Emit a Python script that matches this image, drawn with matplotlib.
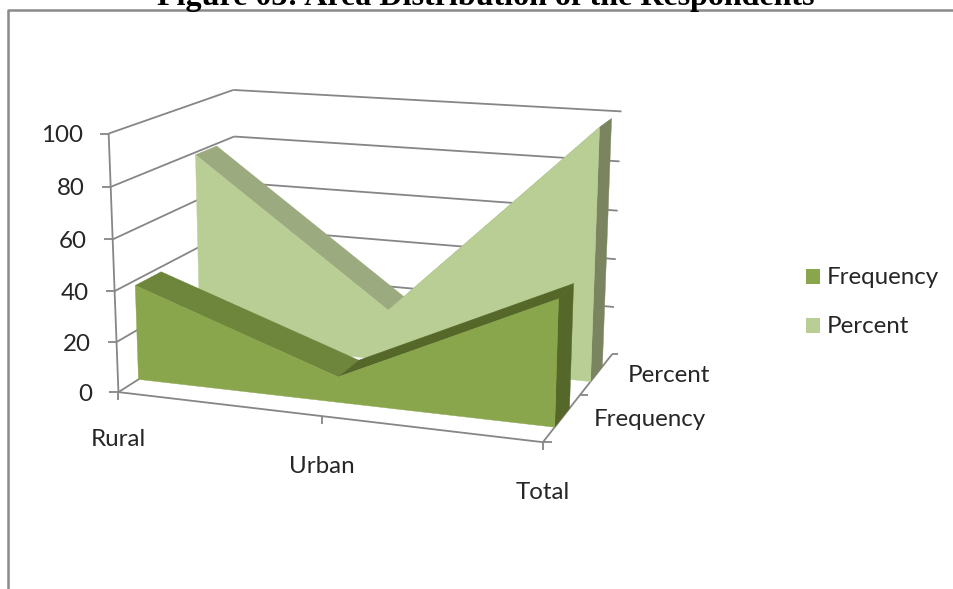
import numpy as np
import matplotlib
matplotlib.use('Agg')
import matplotlib.pyplot as plt
from matplotlib.patches import Polygon, Rectangle

plt.rcParams['font.family'] = ['Lato', 'DejaVu Sans']

categories = ['Rural', 'Urban', 'Total']
series_names = ['Frequency', 'Percent']
frequency = [38, 10, 48]
percent = [79, 21, 100]
value_ticks = [0, 20, 40, 60, 80, 100]

GRID = '#868686'
TEXT = '#262626'
FS = 17.4

# corners of the chart box: (x, depth, value) -> pixel
box = [((0, 0, 0), (118, 390)), ((1, 0, 0), (543, 444)),
       ((0, 1, 0), (238, 319)), ((1, 1, 0), (612, 352)),
       ((0, 0, 1), (109, 134)), ((0, 1, 1), (233, 89)),
       ((1, 1, 1), (621.5, 112))]


def fit_camera(pairs):
    rows = []
    rhs = []
    for (x, d, v), (px, py) in pairs:
        rows.append([x, d, v, 1, 0, 0, 0, 0, -px * x, -px * d, -px * v])
        rows.append([0, 0, 0, 0, x, d, v, 1, -py * x, -py * d, -py * v])
        rhs += [px, py]
    m = np.linalg.lstsq(np.array(rows, float), np.array(rhs, float), rcond=None)[0]
    return np.append(m, 1).reshape(3, 4)


CAM = fit_camera(box)


def proj(x, d, value):
    p = CAM @ np.array([x, d, value / 100.0, 1.0])
    return p[0] / p[2], p[1] / p[2]


def cat_x(i):
    return i / (len(categories) - 1)


fig = plt.figure(figsize=(9.54, 5.89), dpi=100)
ax = fig.add_axes([0, 0, 1, 1])
ax.set_xlim(0, 954)
ax.set_ylim(589, 0)
ax.axis('off')


def line(p, q, lw=1.3):
    ax.plot([p[0], q[0]], [p[1], q[1]], color=GRID, lw=lw, solid_capstyle='butt', zorder=1)


# outer frame and title
ax.plot([8.5, 8.5, 954], [589, 9.5, 9.5], color='#8a8a8a', lw=1.8, zorder=0)
ax.text(486, 5, 'Figure 03: Area Distribution of the Respondents', family='Liberation Serif',
        fontweight='bold', fontsize=23, ha='center', va='baseline', color='black')

# walls
for v in value_ticks:
    a = proj(0, 0, v)
    b = proj(0, 1, v)
    c = proj(1, 1, v)
    line(a, b)
    if v > 0:
        line(b, c)
    else:
        line(c, (c[0] + 6, c[1]))
    line((a[0] - 9, a[1]), a)
    ax.text(a[0] - 26, a[1] + 2, str(v), ha='right', va='center', fontsize=FS, color=TEXT)

# axis lines and their ticks
line(proj(0, 0, 0), proj(0, 0, 100))
line(proj(0, 0, 0), proj(1, 0, 0))
line(proj(1, 0, 0), proj(1, 1, 0))
for i in range(len(categories)):
    p = proj(cat_x(i), 0, 0)
    line(p, (p[0], p[1] + 8))
p = proj(1, 0, 0)
line(p, (p[0] + 9, p[1]))
p = proj(1, 0.5, 0)
line(p, (p[0] + 8, p[1]))

# category and series labels on the floor
cat_offsets = [47, 50, 50]
for i, name in enumerate(categories):
    p = proj(cat_x(i), 0, 0)
    ax.text(p[0], p[1] + cat_offsets[i], name, ha='center', va='center', fontsize=FS, color=TEXT)
ax.text(650, 420, series_names[0], ha='center', va='center', fontsize=FS, color=TEXT)
ax.text(669, 375, series_names[1], ha='center', va='center', fontsize=FS, color=TEXT)


def ribbon(values, d0, d1, front, slope_a, slope_b, side, z):
    pts = len(values)
    shades = [slope_a, slope_b]
    for i in range(pts - 1):
        x0, x1 = cat_x(i), cat_x(i + 1)
        quad = [proj(x0, d0, values[i]), proj(x1, d0, values[i + 1]),
                proj(x1, d1, values[i + 1]), proj(x0, d1, values[i])]
        ax.add_patch(Polygon(quad, closed=True, fc=shades[i], ec=shades[i], lw=0.3, zorder=z))
    end = [proj(1, d0, 0), proj(1, d0, values[-1]), proj(1, d1, values[-1]), proj(1, d1, 0)]
    ax.add_patch(Polygon(end, closed=True, fc=side, ec=side, lw=0.3, zorder=z))
    face = [proj(cat_x(i), d0, values[i]) for i in range(pts)]
    face += [proj(1, d0, 0), proj(0, d0, 0)]
    ax.add_patch(Polygon(face, closed=True, fc=front, ec=front, lw=0.3, zorder=z + 0.1))


ribbon(percent, 0.655, 0.84, '#B9CE95', '#9CAB7F', '#9CAB7F', '#7A8560', 3)
ribbon(frequency, 0.15, 0.35, '#8AA64C', '#6E853C', '#566829', '#566829', 4)

# legend
for y, name, col in [(276, series_names[0], '#8AA64C'), (325.5, series_names[1], '#B9CE95')]:
    ax.add_patch(Rectangle((806, y - 7.5), 14, 15, fc=col, ec='none'))
    ax.text(827, y + 1, name, ha='left', va='center', fontsize=FS, color=TEXT)

fig.savefig('out.png', dpi=100)
